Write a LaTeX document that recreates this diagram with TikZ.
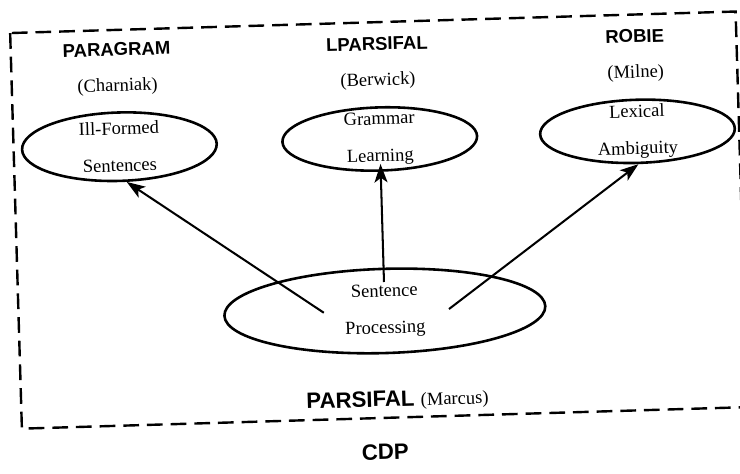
\documentclass[tikz,border=0pt]{standalone}
\usepackage{fontspec}
\setmainfont{Liberation Serif}
\setsansfont{Liberation Sans}
\usepackage{tikz}
\usetikzlibrary{arrows.meta, positioning, shapes.geometric}

\begin{document}
\begin{tikzpicture}[
    >={Stealth[length=10pt, width=7pt, inset=2.5pt]},
    every node/.style={transform shape, inner sep=0pt},
    oval/.style={ellipse, draw, line width=1.4pt, minimum width=3.7cm, minimum height=1.2cm, inner ysep=-3pt, align=center},
    sysname/.style={font=\sffamily\bfseries},
    author/.style={font=\rmfamily},
    link/.style={->, line width=1.1pt},
    cdpbox/.style={line width=1.3pt, dash pattern=on 8.5pt off 4.3pt}
  ]
    \useasboundingbox (0,0) rectangle (14.06,-8.99);
    \begin{scope}[rotate around={1.7:(7.26,-4.48)}]
    % the three applications
    \node[oval] (gram) at (7.27,-2.64) {Grammar\\[8pt]Learning};
    \node[oval, left=1.2cm of gram, minimum height=1.3cm] (ill) {Ill-Formed\\[8pt]Sentences};
    \node[oval, right=1.15cm of gram] (lex) {Lexical\\[8pt]Ambiguity};

    \node[author, above=0.3cm of ill] (charniak) {(Charniak)};
    \node[author, above=0.31cm of gram] (berwick) {(Berwick)};
    \node[author, above=0.31cm of lex] (milne) {(Milne)};
    \node[sysname, above=0.41cm of charniak] (paragram) {PARAGRAM};
    \node[sysname, above=0.41cm of berwick] (lparsifal) {LPARSIFAL};
    \node[sysname, above=0.41cm of milne] (robie) {ROBIE};

    % the parser underneath
    \node[oval, minimum width=6.1cm, minimum height=1.6cm, inner ysep=0pt, below=1.82cm of gram] (proc) {Sentence\\[8pt]Processing};
    \node[below=0.69cm of proc, xshift=0.19cm] (parsifal) {\large\sffamily\bfseries PARSIFAL \normalsize\rmfamily\mdseries(Marcus)};

    \coordinate (fromill) at ([xshift=-1.16cm]proc.center);
    \coordinate (fromgram) at ([yshift=0.55cm]proc.center);
    \coordinate (fromlex) at ([xshift=1.22cm]proc.center);
    \draw[link] (fromill) -- (ill.-80);
    \draw[link] (fromgram) -- ([yshift=0.15cm]gram.south);
    \draw[link] (fromlex) -- (lex.south);

    \draw[cdpbox] (0.31,-0.42) rectangle (14.1,-7.94);
    \node[sysname, font=\sffamily\bfseries\large] (cdp) at (7.2,-8.59) {CDP};
    \end{scope}
\end{tikzpicture}
\end{document}
